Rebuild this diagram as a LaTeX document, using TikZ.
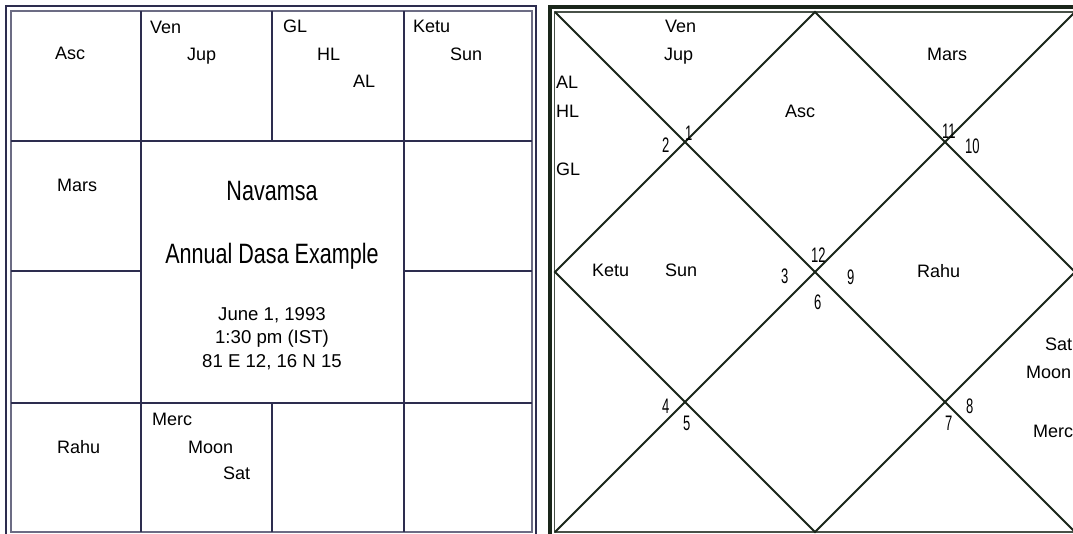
\documentclass[tikz,border=0pt]{standalone}
\usepackage{fontspec}
\setmainfont{Liberation Sans}
\newfontfamily\titlef{Liberation Sans}[FakeStretch=0.77]
\newfontfamily\numf{Liberation Sans}[FakeStretch=0.62]
\definecolor{navy}{HTML}{2D2D4F}
\definecolor{dgreen}{HTML}{1A261A}
\tikzset{
  lbl/.style={anchor=base west, inner sep=0pt, font=\fontsize{18}{18}\selectfont},
  ttl/.style={anchor=base, inner sep=0pt, font=\titlef\fontsize{28}{28}\selectfont},
  dte/.style={anchor=base, inner sep=0pt, font=\fontsize{18.6}{18.6}\selectfont},
  num/.style={anchor=base west, inner sep=0pt, font=\numf\fontsize{21}{21}\selectfont},
  gridln/.style={draw=navy, line width=2pt},
  chartln/.style={draw=dgreen, line width=1.8pt},
}
\begin{document}
\begin{tikzpicture}[x=1pt,y=-1pt]
\useasboundingbox (0,0) rectangle (1073,533);
\clip (0,0) rectangle (1073,533);
\fill[white] (0,0) rectangle (1073,533);
% ---------------- left chart (South Indian) ----------------
\draw[navy, line width=2.6pt] (6,6) rectangle (536,540);
\draw[navy!70, line width=1.1pt] (11,11) rectangle (532,532);
\draw[gridln] (140.5,11) -- (140.5,532);
\draw[gridln] (404,11) -- (404,532);
\draw[gridln] (272,11) -- (272,141);
\draw[gridln] (272,403) -- (272,532);
\draw[gridln] (11,141) -- (532,141);
\draw[gridln] (11,403) -- (532,403);
\draw[gridln] (11,271) -- (140.5,271);
\draw[gridln] (404,271) -- (532,271);
% labels
\node[lbl] (lAsc) at (55,59) {Asc};
\node[lbl] (lVen) at (150,33) {Ven};
\node[lbl] (lJup) at (187,60) {Jup};
\node[lbl] (lGL) at (283,32) {GL};
\node[lbl] (lHL) at (317,60) {HL};
\node[lbl] (lAL) at (353,87) {AL};
\node[lbl] (lKetu) at (413,32) {Ketu};
\node[lbl] (lSun) at (450,60) {Sun};
\node[lbl] (lMars) at (57,191) {Mars};
\node[lbl] (lRahu) at (57,453) {Rahu};
\node[lbl] (lMerc) at (152,425) {Merc};
\node[lbl] (lMoon) at (188,453) {Moon};
\node[lbl] (lSat) at (223,479) {Sat};
\node[ttl] (t1) at (272,200) {Navamsa};
\node[ttl] (t2) at (272,263) {Annual Dasa Example};
\node[dte] (d1) at (272,320) {June 1, 1993};
\node[dte] (d2) at (272,343) {1:30 pm (IST)};
\node[dte] (d3) at (272,367) {81 E 12, 16 N 15};
% ---------------- right chart (North Indian) ----------------
\draw[dgreen, line width=3.5pt] (550,7) rectangle (1085,545);
\draw[dgreen!80, line width=1.1pt] (554.5,12) rectangle (1080,532);
\coordinate (TL) at (555,12);
\coordinate (TR) at (1075,12);
\coordinate (BL) at (555,532);
\coordinate (BR) at (1075,532);
\coordinate (TM) at (815,12);
\coordinate (RM) at (1075,272);
\coordinate (BM) at (815,532);
\coordinate (LM) at (555,272);
\draw[chartln] (TL) -- (BR);
\draw[chartln] (TR) -- (BL);
\draw[chartln] (TM) -- (RM) -- (BM) -- (LM) -- cycle;
% labels
\node[lbl] (rVen) at (665,32) {Ven};
\node[lbl] (rJup) at (664,60) {Jup};
\node[lbl] (rAL) at (556,88) {AL};
\node[lbl] (rHL) at (556,117) {HL};
\node[lbl] (rGL) at (556,175) {GL};
\node[lbl] (rAsc) at (785,117) {Asc};
\node[lbl] (rMars) at (927,60) {Mars};
\node[lbl] (rKetu) at (592,276) {Ketu};
\node[lbl] (rSun) at (665,276) {Sun};
\node[lbl] (rRahu) at (917,277) {Rahu};
\node[lbl] (rSat) at (1045,350) {Sat};
\node[lbl] (rMoon) at (1026,378) {Moon};
\node[lbl] (rMerc) at (1033,437) {Merc};
% house numbers
\node[num] (n1) at (685,140) {1};
\node[num] (n2) at (662,152) {2};
\node[num] (n11) at (942,138) {11};
\node[num] (n10) at (965,153) {10};
\node[num] (n12) at (811,262) {12};
\node[num] (n3) at (781,283) {3};
\node[num] (n9) at (847,284) {9};
\node[num] (n6) at (814,309) {6};
\node[num] (n4) at (662,413) {4};
\node[num] (n5) at (683,430) {5};
\node[num] (n8) at (966,413) {8};
\node[num] (n7) at (945,430) {7};
\end{tikzpicture}
\end{document}
